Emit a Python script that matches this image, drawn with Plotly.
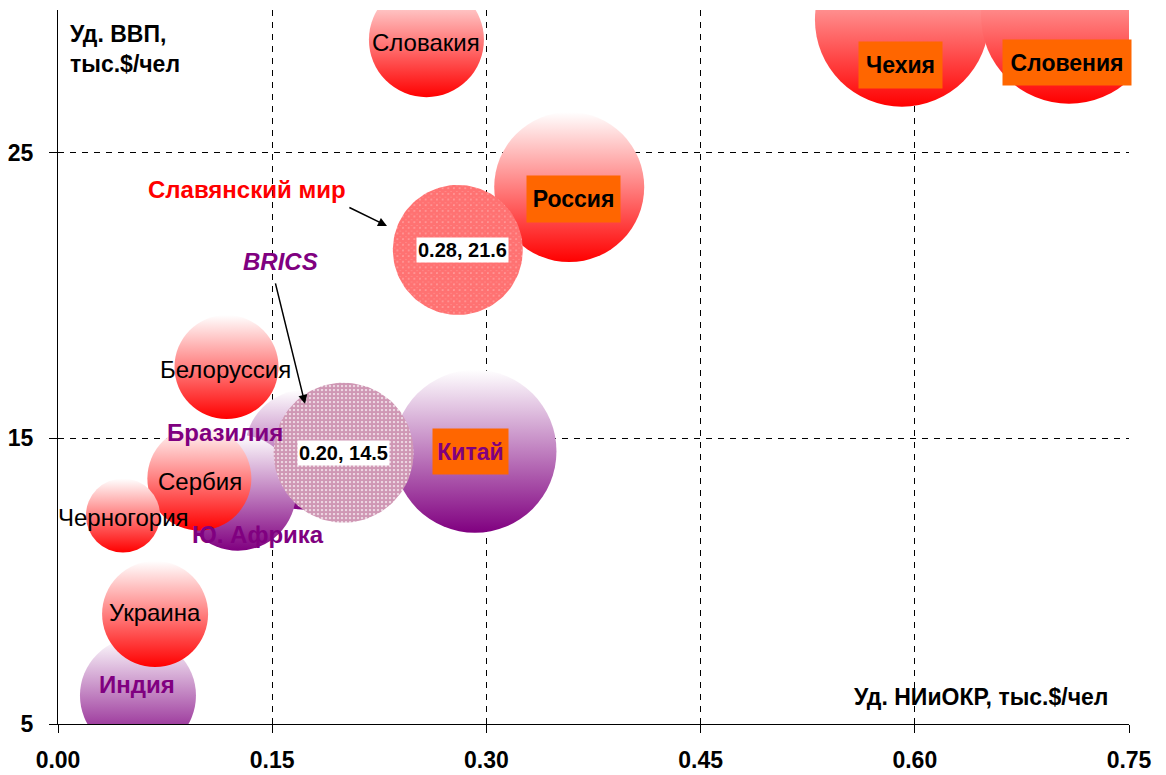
import numpy as np
import plotly.graph_objects as go

# ---- data ----
slav_names = ["Словакия", "Чехия", "Словения", "Россия", "Белоруссия", "Сербия", "Черногория", "Украина"]
slav_rd = [0.258, 0.591, 0.708, 0.358, 0.118, 0.099, 0.0455, 0.068]
slav_gdp = [28.96, 29.66, 29.8, 23.8, 17.5, 13.6, 12.3, 8.85]
slav_bubble = [11.5, 17.4, 17.6, 15.0, 10.4, 10.4, 7.4, 10.6]

brics_names = ["Бразилия", "Ю. Африка", "Китай", "Индия"]
brics_rd = [0.173, 0.126, 0.292, 0.056]
brics_gdp = [14.6, 13.1, 14.55, 6.0]
brics_bubble = [12.0, 11.6, 16.3, 11.6]

avg_names = ["Славянский мир", "BRICS"]
avg_rd = [0.28, 0.20]
avg_gdp = [21.6, 14.5]
avg_bubble = [13.0, 14.0]

x_ticks = [0.0, 0.15, 0.30, 0.45, 0.60, 0.75]
y_ticks = [5, 15, 25]
x_range = [0, 0.75]
y_range = [5, 30]

# ---- layout geometry (page body has an 8px default margin) ----
W, H = 1158, 767
ML, MR, MT, MB = 50, 37, 2, 51
PW, PH = W - ML - MR, H - MT - MB
px_x = PW / (x_range[1] - x_range[0])
px_y = PH / (y_range[1] - y_range[0])
SIZEREF = 0.1

FONT = "Liberation Sans, Arial, sans-serif"
RED = "#ff0000"
PURPLE = "#800080"
ORANGE = "#ff6600"
LBL = 24

fig = go.Figure()

# BRICS bubbles (drawn first)
fig.add_trace(go.Scatter(
    x=brics_rd, y=brics_gdp, mode="markers",
    marker=dict(size=brics_bubble, sizemode="diameter", sizeref=SIZEREF,
                color="white", opacity=1, line=dict(width=0),
                gradient=dict(type="vertical", color=PURPLE)),
    hoverinfo="skip", showlegend=False))

# Slavic bubbles
fig.add_trace(go.Scatter(
    x=slav_rd, y=slav_gdp, mode="markers",
    marker=dict(size=slav_bubble, sizemode="diameter", sizeref=SIZEREF,
                color="white", opacity=1, line=dict(width=0),
                gradient=dict(type="vertical", color=RED)),
    hoverinfo="skip", showlegend=False))

# Average circles with pattern fill
patterns = [
    dict(shape="x", fgcolor=RED, bgcolor="#ffe4e4", size=4, solidity=0.95),
    dict(shape=".", fgcolor="#a0306a", bgcolor="white", size=4, solidity=0.8),
]
theta = np.linspace(0, 2 * np.pi, 120)
for cx, cy, b, pat in zip(avg_rd, avg_gdp, avg_bubble, patterns):
    r = b / SIZEREF / 2
    fig.add_trace(go.Scatter(
        x=cx + r * np.cos(theta) / px_x, y=cy + r * np.sin(theta) / px_y,
        mode="lines", fill="toself", line=dict(width=0, color="rgba(0,0,0,0)"),
        fillcolor="white", fillpattern=pat,
        hoverinfo="skip", showlegend=False))

ann = []

def label(x, y, text, color="black", bold=False, size=LBL, bg=None, w=None, h=None, italic=False):
    t = text
    if bold:
        t = "<b>" + t + "</b>"
    if italic:
        t = "<i>" + t + "</i>"
    d = dict(x=x, y=y, xref="x", yref="y", text=t, showarrow=False,
             font=dict(family=FONT, size=size, color=color))
    if bg:
        d["bgcolor"] = bg
    if w:
        d["width"] = w
    if h:
        d["height"] = h
    ann.append(d)

# Slavic labels
label(0.258, 28.85, "Словакия")
label(0.590, 28.08, "Чехия", bold=True, size=23, bg=ORANGE, w=81, h=44)
label(0.7066, 28.15, "Словения", bold=True, size=23, bg=ORANGE, w=126, h=43)
label(0.3607, 23.39, "Россия", bold=True, size=23, bg=ORANGE, w=91, h=44)
label(0.1176, 17.43, "Белоруссия")
label(0.0994, 13.48, "Сербия")
label(0.0462, 12.22, "Черногория")
label(0.068, 8.89, "Украина")

# BRICS labels
label(0.117, 15.19, "Бразилия", color=PURPLE, bold=True)
label(0.140, 11.62, "Ю. Африка", color=PURPLE, bold=True)
label(0.289, 14.53, "Китай", color=PURPLE, bold=True, size=23, bg=ORANGE, w=73, h=43)
label(0.0553, 6.40, "Индия", color=PURPLE, bold=True)

# averages
ann.append(dict(x=avg_rd[0], y=avg_gdp[0], xref="x", yref="y", xshift=5,
                text="<b>%.2f, %.1f</b>" % (avg_rd[0], avg_gdp[0]), showarrow=False,
                bgcolor="white", font=dict(family=FONT, size=20, color="black")))
ann.append(dict(x=avg_rd[1], y=avg_gdp[1], xref="x", yref="y",
                text="<b>%.2f, %.1f</b>" % (avg_rd[1], avg_gdp[1]), showarrow=False,
                bgcolor="white", font=dict(family=FONT, size=20, color="black")))
label(0.1324, 23.70, avg_names[0], color=RED, bold=True)
label(0.1555, 21.18, avg_names[1], color=PURPLE, bold=True, italic=True)

# arrows
for (tx, ty, hx, hy) in [(0.203, 23.11, 0.2304, 22.44), (0.152, 20.48, 0.173, 16.21)]:
    ann.append(dict(x=hx, y=hy, ax=tx, ay=ty, xref="x", yref="y", axref="x", ayref="y",
                    text="", showarrow=True, arrowhead=2, arrowsize=1.2, arrowwidth=1.5,
                    arrowcolor="black", standoff=0, startstandoff=0))

# axis titles
ann.append(dict(xref="paper", yref="paper", x=0.0093, y=0.987, xanchor="left", yanchor="top",
                align="left", showarrow=False,
                text="<b>Уд. ВВП,<br>тыс.$/чел</b>",
                font=dict(family=FONT, size=23, color="black")))
ann.append(dict(xref="paper", yref="paper", x=0.982, y=0.0378, xanchor="right", yanchor="middle",
                showarrow=False, text="<b>Уд. НИиОКР, тыс.$/чел</b>",
                font=dict(family=FONT, size=23, color="black")))

fig.update_layout(
    width=W, height=H,
    margin=dict(l=ML, r=MR, t=MT, b=MB, autoexpand=False),
    paper_bgcolor="white", plot_bgcolor="white",
    font=dict(family=FONT, color="black"),
    annotations=ann,
    showlegend=False,
)
fig.update_xaxes(range=x_range, tickvals=x_ticks, tickformat=".2f", automargin=False,
                 showgrid=True, gridcolor="black", gridwidth=1, griddash="6px,6px",
                 zeroline=False, showline=True, linecolor="black", linewidth=1,
                 ticks="outside", ticklen=8, tickcolor="black",
                 tickfont=dict(family=FONT, size=23, color="black", weight="bold"),
                 ticklabelstandoff=7)
fig.update_yaxes(range=y_range, tickvals=y_ticks, automargin=False,
                 showgrid=True, gridcolor="black", gridwidth=1, griddash="6px,6px",
                 zeroline=False, showline=True, linecolor="black", linewidth=1,
                 ticks="outside", ticklen=8, tickcolor="black",
                 tickfont=dict(family=FONT, size=23, color="black", weight="bold"),
                 ticklabelstandoff=11)

fig.write_html("out.html")
